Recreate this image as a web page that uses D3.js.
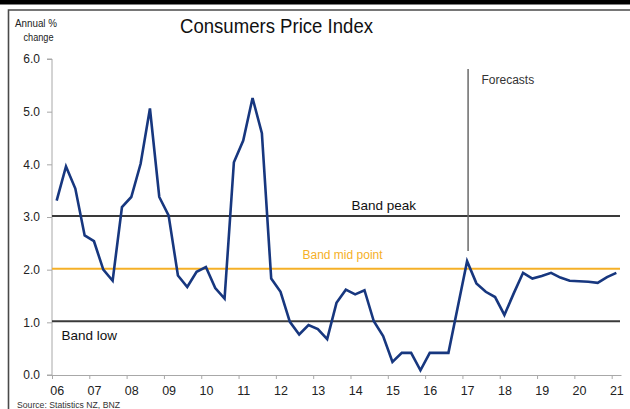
<!DOCTYPE html>
<html>
<head>
<meta charset="utf-8">
<script src="https://cdn.jsdelivr.net/npm/d3@7"></script>
<style>
  html, body { margin: 0; padding: 0; background: #fff; }
  svg { display: block; font-family: "Liberation Sans", Arial, sans-serif; }
</style>
</head>
<body>
<svg id="chart" width="630" height="409"></svg>
<script>
// Quarterly annual CPI inflation, 2006 Q1 – 2021 Q1 (forecasts from 2017 Q1)
const cpi = [
  3.31, 3.96, 3.54, 2.65,
  2.54, 2.00, 1.79, 3.19,
  3.38, 4.01, 5.06, 3.38,
  3.03, 1.89, 1.67, 1.96,
  2.05, 1.65, 1.45, 4.04,
  4.45, 5.26, 4.59, 1.83,
  1.58, 1.01, 0.77, 0.95,
  0.87, 0.68, 1.37, 1.62,
  1.53, 1.61, 1.02, 0.74,
  0.25, 0.42, 0.42, 0.09,
  0.42, 0.42, 0.42, 1.29,
  2.16, 1.74, 1.58, 1.48,
  1.14, 1.55, 1.94, 1.83,
  1.88, 1.94, 1.85, 1.79,
  1.78, 1.77, 1.75, 1.86,
  1.94
];
const yearLabels = ["06","07","08","09","10","11","12","13","14","15","16","17","18","19","20","21"];
const yTicks = [0, 1, 2, 3, 4, 5, 6];
const bandLevels = [
  { name: "Band peak", value: 3 },
  { name: "Band mid point", value: 2 },
  { name: "Band low", value: 1 }
];
const forecastStart = 44; // 2017 Q1

const svg = d3.select("#chart");

const x = d3.scaleLinear().domain([-0.5, cpi.length - 0.5]).range([52, 621]);
const y = d3.scaleLinear().domain([0, 6]).range([375, 59]);

// frame
svg.append("rect").attr("x", 0).attr("y", 0).attr("width", 630).attr("height", 4.5).attr("fill", "#000");
svg.append("path").attr("d", "M8.5,409 V10 H630")
  .attr("fill", "none").attr("stroke", "#4a4a4a").attr("stroke-width", 1.6);

// title and unit label
svg.append("text").attr("x", 276.5).attr("y", 33).attr("text-anchor", "middle")
  .attr("font-size", 21).attr("fill", "#111")
  .attr("textLength", 193).attr("lengthAdjust", "spacingAndGlyphs")
  .text("Consumers Price Index");
svg.append("text").attr("x", 15).attr("y", 26.5).attr("font-size", 11.5).attr("fill", "#222")
  .attr("textLength", 42).attr("lengthAdjust", "spacingAndGlyphs").text("Annual %");
svg.append("text").attr("x", 23.5).attr("y", 40.5).attr("font-size", 11.5).attr("fill", "#222")
  .attr("textLength", 30).attr("lengthAdjust", "spacingAndGlyphs").text("change");

// y axis
const yAxis = d3.axisLeft(y).tickValues(yTicks).tickFormat(d3.format(".1f")).tickSize(5).tickPadding(7);
const gy = svg.append("g").attr("transform", "translate(52,0)").call(yAxis);
gy.select(".domain").attr("stroke", "#a8a8a8").attr("d", `M-5,${y(6)}H0V${y(0)}H-5`);
gy.selectAll(".tick line").attr("stroke", "#a8a8a8");
gy.selectAll(".tick text").attr("font-size", 12).attr("fill", "#222")
  .attr("font-family", "'Liberation Sans', Arial, sans-serif");

// x axis: ticks at year boundaries, labels on each year's first quarter
const yearStarts = yearLabels.map((d, i) => i * 4 - 0.5);
const xAxis = d3.axisBottom(x).tickValues(yearStarts).tickFormat("").tickSize(4).tickSizeOuter(0);
const gx = svg.append("g").attr("transform", `translate(0,${y(0)})`).call(xAxis);
gx.select(".domain").attr("stroke", "#a8a8a8");
gx.selectAll(".tick line").attr("stroke", "#a8a8a8");
svg.append("g").selectAll("text").data(yearLabels).join("text")
  .attr("x", (d, i) => x(i * 4) + 0.5)
  .attr("y", 395)
  .attr("text-anchor", "middle")
  .attr("font-size", 12.5)
  .attr("fill", "#222")
  .text(d => d);

// band lines
const bandColour = { "Band peak": "#3a3a3a", "Band mid point": "#f5b027", "Band low": "#3a3a3a" };
svg.append("g").selectAll("line").data(bandLevels).join("line")
  .attr("x1", x(-0.5)).attr("x2", 620)
  .attr("y1", d => y(d.value) - 1).attr("y2", d => y(d.value) - 1)
  .attr("stroke", d => bandColour[d.name]).attr("stroke-width", 2);

// forecast divider
svg.append("line")
  .attr("x1", x(forecastStart) + 1).attr("x2", x(forecastStart) + 1)
  .attr("y1", 69).attr("y2", 251)
  .attr("stroke", "#6a6a6a").attr("stroke-width", 1.5);
svg.append("text").attr("x", 481.5).attr("y", 84).attr("font-size", 12).attr("fill", "#333").text("Forecasts");

// band labels
svg.append("text").attr("x", 351.5).attr("y", 210).attr("font-size", 13.5).attr("fill", "#111").text("Band peak");
svg.append("text").attr("x", 302.5).attr("y", 258.5).attr("font-size", 12).attr("fill", "#f5b027").text("Band mid point");
svg.append("text").attr("x", 61.5).attr("y", 340).attr("font-size", 13.5).attr("fill", "#111").text("Band low");

// CPI line
const line = d3.line().x((d, i) => x(i)).y(d => y(d));
svg.append("path").datum(cpi)
  .attr("d", line)
  .attr("fill", "none")
  .attr("stroke", "#17377f")
  .attr("stroke-width", 2.6)
  .attr("stroke-linejoin", "miter")
  .attr("stroke-miterlimit", 4);

// source note
svg.append("text").attr("x", 17).attr("y", 407.5).attr("font-size", 8.5).attr("fill", "#333")
  .attr("textLength", 103).attr("lengthAdjust", "spacingAndGlyphs")
  .text("Source: Statistics NZ, BNZ");
</script>
</body>
</html>
